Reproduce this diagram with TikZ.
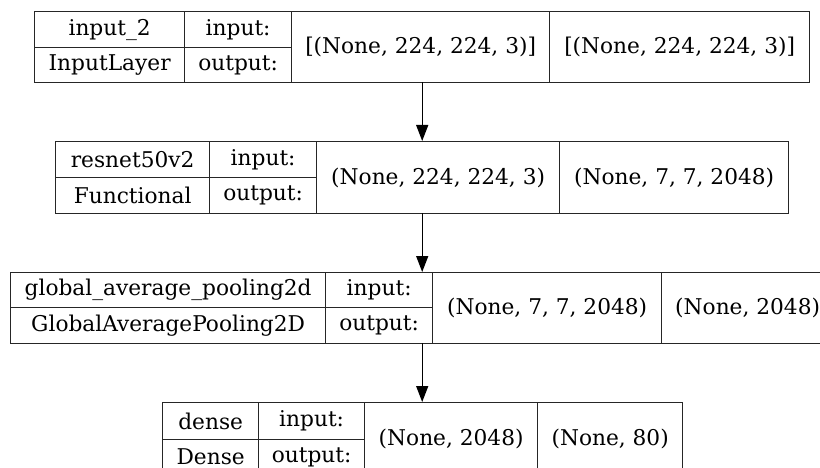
\documentclass[tikz,border=0pt]{standalone}
\usepackage{fontspec}
\setmainfont{DejaVu Serif}
\usetikzlibrary{arrows.meta}
\tikzset{
  cell/.style={draw=black!85, line width=1.3pt, inner sep=0pt, anchor=north west,
    font=\fontsize{21.7}{26}\selectfont},
  frame/.style={inner sep=0pt, anchor=north west},
  flow/.style={draw=black, line width=1.3pt, -{Triangle[width=12pt,length=16pt]}}
}
\begin{document}
\begin{tikzpicture}[x=1pt,y=1pt]
  \useasboundingbox (0,0) rectangle (820,-468);
  \fill[white] (0,0) rectangle (820,-468);
  \clip (0,0) rectangle (820,-468);

  % input_2
  \node[frame, minimum width=775pt, minimum height=71pt] (L1) at (34,-11) {};
  \node[cell, minimum width=150pt, minimum height=36pt] (l1n) at (34,-11) {input\_2};
  \node[cell, minimum width=150pt, minimum height=35pt] (l1c) at (34,-47) {InputLayer};
  \node[cell, minimum width=107pt, minimum height=36pt] (l1i) at (184,-11) {input:};
  \node[cell, minimum width=107pt, minimum height=35pt] (l1o) at (184,-47) {output:};
  \node[cell, minimum width=258pt, minimum height=71pt] (l1x) at (291,-11) {[(None, 224, 224, 3)]};
  \node[cell, minimum width=260pt, minimum height=71pt] (l1y) at (549,-11) {[(None, 224, 224, 3)]};

  % resnet50v2
  \node[frame, minimum width=733pt, minimum height=72pt] (L2) at (55,-141) {};
  \node[cell, minimum width=154pt, minimum height=36pt] (l2n) at (55,-141) {resnet50v2};
  \node[cell, minimum width=154pt, minimum height=36pt] (l2c) at (55,-177) {Functional};
  \node[cell, minimum width=107pt, minimum height=36pt] (l2i) at (209,-141) {input:};
  \node[cell, minimum width=107pt, minimum height=36pt] (l2o) at (209,-177) {output:};
  \node[cell, minimum width=243pt, minimum height=72pt] (l2x) at (316,-141) {(None, 224, 224, 3)};
  \node[cell, minimum width=229pt, minimum height=72pt] (l2y) at (559,-141) {(None, 7, 7, 2048)};

  % global_average_pooling2d
  \node[frame, minimum width=823pt, minimum height=71pt] (L3) at (10,-272) {};
  \node[cell, minimum width=315pt, minimum height=35pt] (l3n) at (10,-272) {global\_average\_pooling2d};
  \node[cell, minimum width=315pt, minimum height=36pt] (l3c) at (10,-307) {GlobalAveragePooling2D};
  \node[cell, minimum width=107pt, minimum height=35pt] (l3i) at (325,-272) {input:};
  \node[cell, minimum width=107pt, minimum height=36pt] (l3o) at (325,-307) {output:};
  \node[cell, minimum width=229pt, minimum height=71pt] (l3x) at (432,-272) {(None, 7, 7, 2048)};
  \node[cell, minimum width=172pt, minimum height=71pt] (l3y) at (661,-272) {(None, 2048)};

  % dense
  \node[frame, minimum width=520pt, minimum height=72pt] (L4) at (162,-402) {};
  \node[cell, minimum width=96pt, minimum height=37pt] (l4n) at (162,-402) {dense};
  \node[cell, minimum width=96pt, minimum height=35pt] (l4c) at (162,-439) {Dense};
  \node[cell, minimum width=106pt, minimum height=37pt] (l4i) at (258,-402) {input:};
  \node[cell, minimum width=106pt, minimum height=35pt] (l4o) at (258,-439) {output:};
  \node[cell, minimum width=173pt, minimum height=72pt] (l4x) at (364,-402) {(None, 2048)};
  \node[cell, minimum width=145pt, minimum height=72pt] (l4y) at (537,-402) {(None, 80)};

  % data flow between layers
  \draw[flow] ([xshift=0.5pt]L1.south) -- ([xshift=0.5pt]L2.north);
  \draw[flow] ([xshift=0.5pt]L2.south) -- ([xshift=0.5pt]L2.south |- L3.north);
  \draw[flow] ([xshift=0.5pt]L2.south |- L3.south) -- ([xshift=0.5pt]L2.south |- L4.north);
\end{tikzpicture}
\end{document}
